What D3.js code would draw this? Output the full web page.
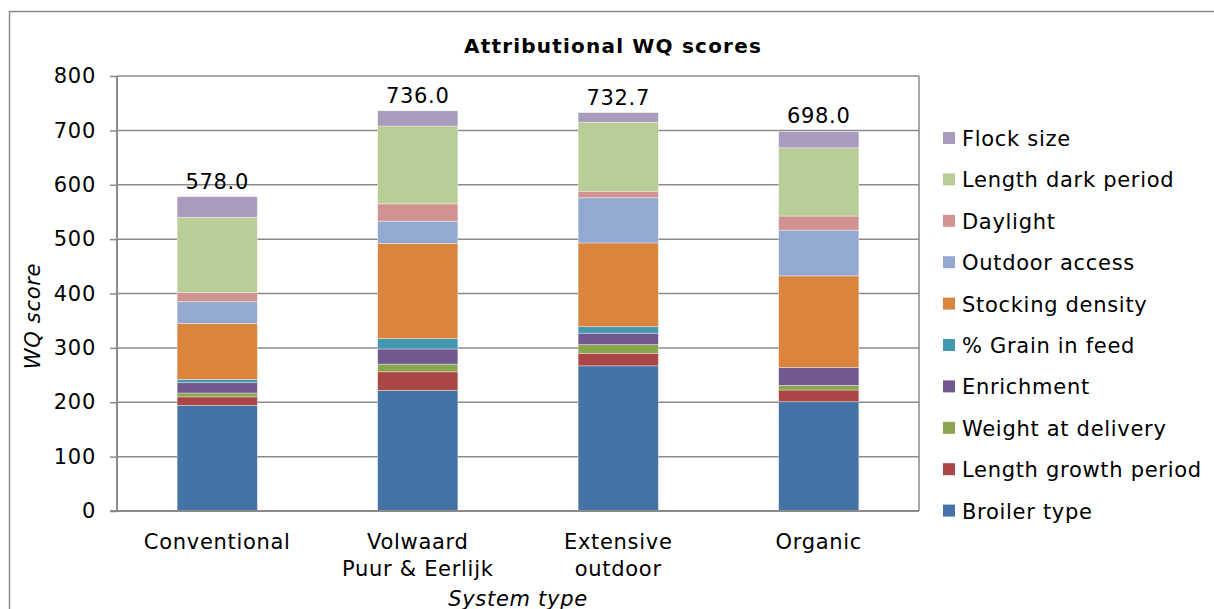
<!DOCTYPE html>
<html>
<head>
<meta charset="utf-8">
<script src="https://cdn.jsdelivr.net/npm/d3@7/dist/d3.min.js"></script>
<style>
  html, body { margin: 0; padding: 0; background: #fff; }
  svg { display: block; font-family: "DejaVu Sans", Verdana, sans-serif; }
</style>
</head>
<body>
<svg id="chart" width="1214" height="609"></svg>
<script>
// System types (category axis); multi-line labels split on "\n"
const systems = ["Conventional", "Volwaard\nPuur & Eerlijk", "Extensive\noutdoor", "Organic"];

// Welfare quality attributes, stacked bottom to top
const attributes = [
  "Broiler type", "Length growth period", "Weight at delivery", "Enrichment",
  "% Grain in feed", "Stocking density", "Outdoor access", "Daylight",
  "Length dark period", "Flock size"
];

// Attribute scores per system (same order as systems)
const broilerType        = [194, 222, 267, 201];
const lengthGrowthPeriod = [16, 34, 23, 21.5];
const weightAtDelivery   = [7, 14, 16, 8.5];
const enrichment         = [19, 28, 21, 33];
const grainInFeed        = [6, 19, 12, 0];
const stockingDensity    = [103, 175, 154, 168.5];
const outdoorAccess      = [40, 41, 83, 84];
const daylight           = [17, 32, 12, 26];
const lengthDarkPeriod   = [138, 143, 127, 125.5];
const flockSize          = [38, 28, 17.7, 30];

// Totals printed above each bar
const totals = [578.0, 736.0, 732.7, 698.0];

const yTicks = [0, 100, 200, 300, 400, 500, 600, 700, 800];

const colors = ["#4572A7", "#AA4643", "#89A54E", "#71588F", "#4198AF",
                "#DB843D", "#93A9CF", "#D19392", "#B9CD96", "#A99BBD"];

const seriesValues = [broilerType, lengthGrowthPeriod, weightAtDelivery, enrichment,
  grainInFeed, stockingDensity, outdoorAccess, daylight, lengthDarkPeriod, flockSize];

const rows = systems.map((s, i) => {
  const r = { system: s };
  attributes.forEach((a, k) => { r[a] = seriesValues[k][i]; });
  return r;
});

const svg = d3.select("#chart");
const plot = { left: 117, top: 76, right: 919, bottom: 511 };
const axisGray = "#8a8a8a";
const fs = 21, ls = 0.7;

// Outer chart frame (extends beyond the visible canvas on the right and bottom)
svg.append("rect")
  .attr("x", 9.5).attr("y", 11.5)
  .attr("width", 1240).attr("height", 640)
  .attr("fill", "none").attr("stroke", axisGray).attr("stroke-width", 1.5);

const x = d3.scaleBand().domain(systems).range([plot.left, plot.right]).paddingInner(0.6).paddingOuter(0.3);
const y = d3.scaleLinear().domain([0, 800]).range([plot.bottom, plot.top]);

// Gridlines
svg.append("g")
  .selectAll("line").data(yTicks.filter(t => t > 0)).join("line")
  .attr("x1", plot.left).attr("x2", plot.right)
  .attr("y1", d => y(d)).attr("y2", d => y(d))
  .attr("stroke", axisGray).attr("stroke-width", 1.5);

// Right border of plot area
svg.append("line")
  .attr("x1", plot.right).attr("x2", plot.right)
  .attr("y1", plot.top).attr("y2", plot.bottom)
  .attr("stroke", axisGray).attr("stroke-width", 1.5);

// Stacked bars
const stack = d3.stack().keys(attributes);
const layers = stack(rows);
svg.append("g")
  .selectAll("g").data(layers).join("g")
  .attr("fill", (d, i) => colors[i])
  .selectAll("rect").data(d => d).join("rect")
  .attr("x", d => x(d.data.system))
  .attr("width", x.bandwidth())
  .attr("y", d => y(d[1]))
  .attr("height", d => Math.max(0, y(d[0]) - y(d[1])))
  .attr("stroke", "rgba(255,255,255,0.45)")
  .attr("stroke-width", 0.8);

// Y axis
const yAxis = d3.axisLeft(y).tickValues(yTicks).tickSize(7).tickPadding(14).tickFormat(d3.format("d"));
const yg = svg.append("g").attr("transform", `translate(${plot.left},0)`).call(yAxis);
yg.select(".domain").attr("stroke", axisGray).attr("stroke-width", 2).attr("d", `M0,${plot.top}V${plot.bottom}`);
yg.selectAll(".tick line").attr("stroke", axisGray).attr("stroke-width", 1.5);
yg.selectAll(".tick text").attr("font-size", fs).attr("letter-spacing", ls).attr("fill", "#000")
  .attr("font-family", "DejaVu Sans, Verdana, sans-serif");

// X axis baseline
svg.append("line")
  .attr("x1", plot.left - 7).attr("x2", plot.right)
  .attr("y1", plot.bottom).attr("y2", plot.bottom)
  .attr("stroke", axisGray).attr("stroke-width", 2);

// Category labels
const xl = svg.append("g").selectAll("text").data(systems).join("text")
  .attr("x", d => x(d) + x.bandwidth() / 2)
  .attr("y", 549)
  .attr("text-anchor", "middle")
  .attr("font-size", fs).attr("letter-spacing", ls)
  .attr("fill", "#000");
xl.each(function(d) {
  const t = d3.select(this);
  d.split("\n").forEach((line, i) => {
    t.append("tspan").attr("x", x(d) + x.bandwidth() / 2).attr("dy", i === 0 ? 0 : 27).text(line);
  });
});

// Totals above bars
svg.append("g").selectAll("text").data(systems).join("text")
  .attr("x", d => x(d) + x.bandwidth() / 2)
  .attr("y", (d, i) => y(totals[i]) - 8)
  .attr("text-anchor", "middle")
  .attr("font-size", fs).attr("letter-spacing", ls)
  .attr("fill", "#000")
  .text((d, i) => totals[i].toFixed(1));

// Title
svg.append("text")
  .attr("x", 613).attr("y", 53)
  .attr("text-anchor", "middle")
  .attr("font-size", 20).attr("font-weight", "bold").attr("letter-spacing", 1.2)
  .attr("fill", "#000")
  .text("Attributional WQ scores");

// Axis titles
svg.append("text")
  .attr("transform", "translate(40,316) rotate(-90)")
  .attr("text-anchor", "middle")
  .attr("font-size", fs).attr("letter-spacing", ls).attr("font-style", "italic")
  .attr("fill", "#000")
  .text("WQ score");

svg.append("text")
  .attr("x", (plot.left + plot.right) / 2).attr("y", 606)
  .attr("text-anchor", "middle")
  .attr("font-size", fs).attr("letter-spacing", ls).attr("font-style", "italic")
  .attr("fill", "#000")
  .text("System type");

// Legend (top entry is the top of the stack)
const legendItems = attributes.map((a, i) => ({ name: a, color: colors[i] })).reverse();
const lg = svg.append("g").selectAll("g").data(legendItems).join("g")
  .attr("transform", (d, i) => `translate(943,${138 + i * 41.4})`);
lg.append("rect").attr("x", 0).attr("y", -6).attr("width", 12).attr("height", 12).attr("fill", d => d.color);
lg.append("text").attr("x", 19).attr("y", 8).attr("font-size", fs).attr("letter-spacing", ls)
  .attr("fill", "#000").text(d => d.name);
</script>
</body>
</html>
